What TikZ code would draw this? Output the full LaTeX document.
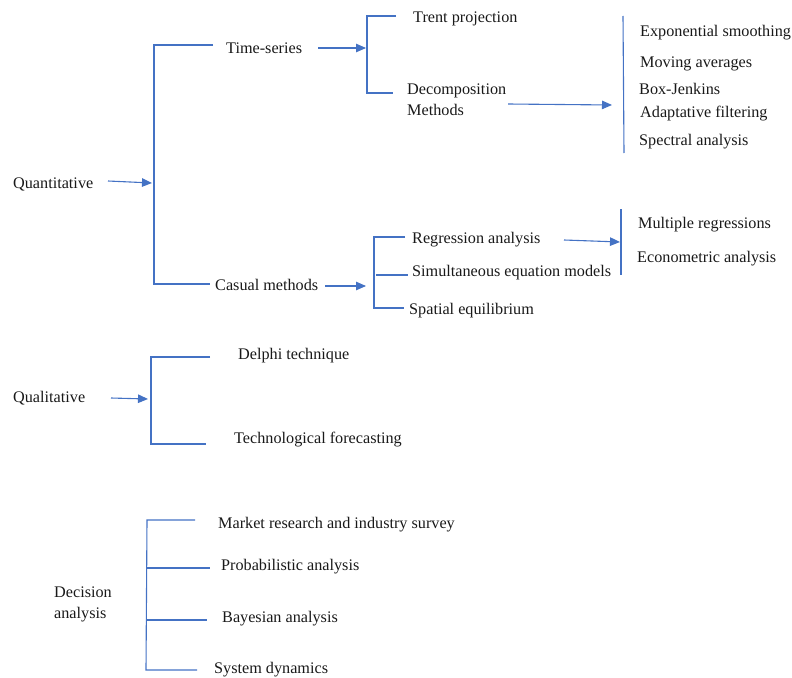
\documentclass[tikz,border=0pt]{standalone}
\usepackage{fontspec}
\setmainfont{Liberation Serif}
\usetikzlibrary{arrows.meta}
\definecolor{lineblue}{RGB}{68,114,196}
\tikzset{
  lbl/.style={anchor=west,inner sep=0pt,font=\rmfamily\fontsize{16.2}{21}\selectfont,text=black!90,align=left},
  brk/.style={draw=lineblue,line width=1.1pt},
  arr/.style={draw=lineblue,line width=1.1pt,-{Triangle[length=10pt,width=8.5pt]}}
}
\begin{document}
\begin{tikzpicture}[x=1pt,y=-1pt]
\useasboundingbox (0,0) rectangle (792,677);
% labels
\node[lbl] (quant) at (13,184) {Quantitative};
\node[lbl] (ts) at (226,48) {Time-series};
\node[lbl] (trent) at (413,19) {Trent projection};
\node[lbl] (decomp) at (407,100) {Decomposition\\Methods};
\node[lbl] (exp) at (640,33) {Exponential smoothing};
\node[lbl] (mov) at (640,64) {Moving averages};
\node[lbl] (box) at (639,89) {Box-Jenkins};
\node[lbl] (adap) at (640,114) {Adaptative filtering};
\node[lbl] (spec) at (639,142) {Spectral analysis};
\node[lbl] (casual) at (215,285) {Casual methods};
\node[lbl] (regr) at (412,240) {Regression analysis};
\node[lbl] (simul) at (412,273) {Simultaneous equation models};
\node[lbl] (spat) at (409,311) {Spatial equilibrium};
\node[lbl] (mult) at (638,225) {Multiple regressions};
\node[lbl] (econ) at (637,259) {Econometric analysis};
\node[lbl] (qual) at (13,398) {Qualitative};
\node[lbl] (delphi) at (238,356) {Delphi technique};
\node[lbl] (techf) at (234,440) {Technological forecasting};
\node[lbl] (dec) at (54,604) {Decision\\analysis};
\node[lbl] (market) at (218,525) {Market research and industry survey};
\node[lbl] (prob) at (221,567) {Probabilistic analysis};
\node[lbl] (bayes) at (222,619) {Bayesian analysis};
\node[lbl] (sysdyn) at (214,670) {System dynamics};
% coordinates
\coordinate (qA) at (154,45);
\coordinate (qB) at (154,284);
\coordinate (qM) at (152,183);
\coordinate (tA) at (367,16);
\coordinate (tB) at (367,93);
\coordinate (tM) at (366,48);
\coordinate (vA) at (623,16);
\coordinate (vB) at (624,153);
\coordinate (vM) at (612,105);
\coordinate (cA) at (374,237);
\coordinate (cB) at (374,308);
\coordinate (cMid) at (376,275);
\coordinate (cM) at (366,286);
\coordinate (rA) at (621,209);
\coordinate (rB) at (621,275);
\coordinate (rM) at (620,242);
\coordinate (lA) at (151,357);
\coordinate (lB) at (151,444);
\coordinate (lM) at (148,399);
\coordinate (dA) at (147,520);
\coordinate (dB) at (146,670);
% quantitative
\draw[arr] (108,181 |- quant.east) ++(0,-3) -- (qM);
\draw[brk] (213,45) -- (qA) -- (qB) -- (210,284);
\draw[arr] (318,0 |- ts.east) -- (tM);
\draw[brk] (396,16) -- (tA) -- (tB) -- (393,93);
\draw[arr] (508,0 |- decomp.east) ++(0,4) -- (vM);
\draw[brk] (vA) -- (vB);
\draw[arr] (325,0 |- casual.east) ++(0,1) -- (cM);
\draw[brk] (405,237) -- (cA) -- (cB) -- (404,308);
\draw[brk] (cMid) -- (408,275);
\draw[arr] (564,0 |- regr.east) -- (rM);
\draw[brk] (rA) -- (rB);
% qualitative
\draw[arr] (111,0 |- qual.east) -- (lM);
\draw[brk] (210,357) -- (lA) -- (lB) -- (206,444);
% decision
\draw[brk] (195,520) -- (dA) -- (dB) -- (197,670);
\draw[brk] (147,568) -- (210,568);
\draw[brk] (146,620) -- (207,620);
\end{tikzpicture}
\end{document}
